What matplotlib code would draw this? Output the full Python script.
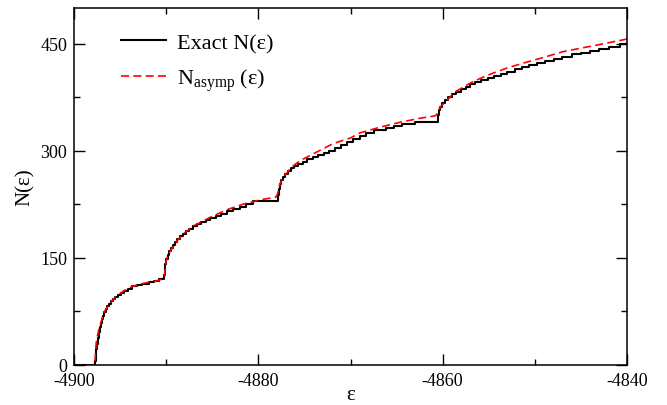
import matplotlib
matplotlib.use("Agg")
import matplotlib.pyplot as plt
from matplotlib.ticker import MultipleLocator

plt.rcParams['font.family'] = ['Liberation Serif', 'DejaVu Serif']
plt.rcParams['mathtext.fontset'] = 'custom'
plt.rcParams['mathtext.rm'] = 'Liberation Serif'
plt.rcParams['mathtext.it'] = 'Liberation Serif:italic'
plt.rcParams['axes.unicode_minus'] = False

# staircase: energy where the count jumps, count after the jump
exact_x = [-4900.0, -4897.75,
           -4897.72, -4897.65, -4897.58, -4897.5, -4897.42, -4897.33, -4897.22,
           -4897.1, -4896.98, -4896.85, -4896.7, -4896.55, -4896.38, -4896.2,
           -4896.0, -4895.75, -4895.5, -4895.2, -4894.9, -4894.55, -4894.1,
           -4893.7, -4893.2, -4892.6, -4891.9, -4891.3, -4890.8,
           -4890.2, -4890.15, -4890.08, -4889.98, -4889.85, -4889.7, -4889.5,
           -4889.3, -4889.05, -4888.8, -4888.5, -4888.2, -4887.85, -4887.5,
           -4887.1, -4886.7, -4886.2, -4885.7, -4885.2, -4884.6, -4884.0,
           -4883.4, -4882.7, -4882.0, -4881.3, -4880.6,
           -4877.85, -4877.8, -4877.7, -4877.55, -4877.35, -4877.1, -4876.8,
           -4876.45, -4876.1, -4875.7, -4875.2, -4874.7, -4874.1, -4873.5,
           -4872.9, -4872.3, -4871.7, -4871.0, -4870.4, -4869.7, -4869.0,
           -4868.3, -4867.4, -4866.2, -4865.3, -4864.4, -4863.0,
           -4860.55, -4860.45, -4860.3, -4860.1, -4859.8, -4859.4, -4859.0,
           -4858.5, -4858.0, -4857.5, -4857.0, -4856.5, -4855.8, -4855.1,
           -4854.4, -4853.7, -4853.0, -4852.2, -4851.4, -4850.6, -4849.8,
           -4848.9, -4847.9, -4847.0, -4846.0, -4845.0, -4844.0, -4843.0,
           -4841.9, -4840.8, -4840.0]
exact_y = [0, 0,
           6, 14, 22, 30, 38, 46, 53,
           59, 64, 69, 74, 78, 82, 86,
           89, 92, 95, 98, 101, 104, 107,
           110, 112, 114, 116, 118, 120,
           126, 134, 141, 148, 154, 159, 164,
           168, 172, 176, 180, 184, 187, 191,
           194, 197, 200, 203, 206, 209, 212,
           215, 218, 221, 225, 230,
           238, 246, 253, 259, 264, 268, 272,
           276, 279, 282, 285, 288, 291, 294,
           297, 300, 304, 308, 313, 317, 321,
           325, 329, 332, 335, 338, 341,
           350, 357, 362, 367, 371, 375, 379,
           383, 387, 390, 393, 396, 399, 402,
           405, 408, 411, 414, 417, 420, 423,
           426, 429, 432, 435, 437, 440, 443,
           446, 449, 451]

# asymptotic curve
asymp_x = [-4900.0, -4897.75, -4897.6, -4897.5, -4897.3, -4897.0, -4896.74,
           -4896.2, -4895.5, -4894.6, -4893.7, -4892.4, -4891.0, -4890.3,
           -4890.2, -4890.05, -4889.8, -4889.15, -4888.9, -4888.0, -4887.0,
           -4885.2, -4883.4, -4881.6, -4879.5, -4878.1,
           -4877.9, -4877.7, -4877.3, -4876.4, -4875.5, -4873.7, -4871.9,
           -4870.0, -4869.0, -4866.8, -4864.6, -4862.5, -4860.8,
           -4860.5, -4860.3, -4859.2, -4858.85, -4856.7, -4854.9, -4853.0,
           -4851.2, -4849.4, -4846.9, -4843.3, -4840.0]
asymp_y = [0, 0, 30, 38, 50, 63, 74,
           85, 95, 104, 110, 114.5, 118, 121,
           122, 143, 155, 167, 173, 185, 195,
           207, 217.5, 225.5, 232, 235,
           240, 252, 263, 277, 286, 298, 310,
           318, 325, 333, 340, 345.5, 349,
           353, 361, 375, 381, 397, 407, 416,
           423, 429.5, 439, 448, 456.5]

fig = plt.figure(figsize=(6.67, 4.06), dpi=100)
ax = fig.add_axes([74 / 667, 1 - 366 / 406, 553 / 667, 357 / 406])

ax.step(exact_x, exact_y, where='post', color='black', lw=1.5,
        label='Exact N(ε)')
ax.plot(asymp_x, asymp_y, color='red', lw=1.2, dashes=(4.8, 2.6),
        label=r'N$_{\rm asymp}$ (ε)')

ax.set_xlim(-4900, -4840)
ax.set_ylim(0, 500)
ax.xaxis.set_major_locator(MultipleLocator(20))
ax.xaxis.set_minor_locator(MultipleLocator(10))
ax.yaxis.set_major_locator(MultipleLocator(150))
ax.yaxis.set_minor_locator(MultipleLocator(75))
ax.tick_params(which='both', direction='in', top=True, right=True,
               labelsize=13, pad=5)
ax.tick_params(which='major', length=8, width=1)
ax.tick_params(which='minor', length=4, width=1)
for s in ax.spines.values():
    s.set_linewidth(1.1)

ax.set_xlabel('ε', fontsize=15, labelpad=-3)
ax.set_ylabel('N(ε)', fontsize=15, labelpad=4)

ax.legend(loc='upper left', frameon=False, fontsize=16, handlelength=2.0,
          handletextpad=0.5, labelspacing=0.6, borderaxespad=0.3,
          bbox_to_anchor=(0.057, 0.975))

fig.savefig('out.png', dpi=100)
